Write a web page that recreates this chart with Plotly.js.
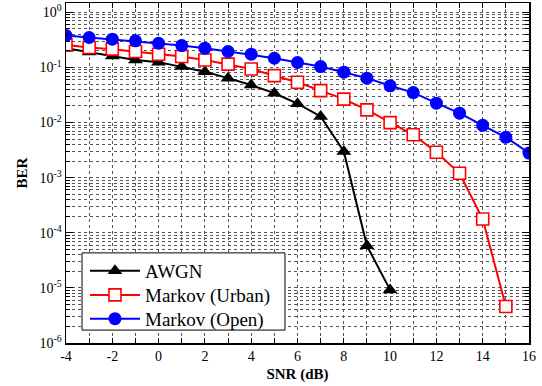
<!DOCTYPE html>
<html><head><meta charset="utf-8">
<script src="https://cdn.plot.ly/plotly-3.0.1.min.js"></script>
<style>html,body{margin:0;padding:0;background:#fff}#chart{width:542px;height:386px}</style>
</head><body><div id="chart"></div>
<script>
const snr = [-4,-3,-2,-1,0,1,2,3,4,5,6,7,8,9,10,11,12,13,14,15,16];
const awgnSnr = [-4,-3,-2,-1,0,1,2,3,4,5,6,7,8,9,10];
const awgn = [0.224,0.19,0.162,0.137,0.125,0.104,0.084,0.064,0.048,0.034,0.022,0.0129,0.003,5.8e-5,9.2e-6];
const urbanSnr = [-4,-3,-2,-1,0,1,2,3,4,5,6,7,8,9,10,11,12,13,14,15];
const urban = [0.257,0.23,0.215,0.195,0.174,0.158,0.137,0.115,0.094,0.071,0.054,0.038,0.0266,0.017,0.01,0.006,0.0029,0.0012,1.78e-4,4.6e-6];
const open = [0.38,0.35,0.326,0.304,0.275,0.25,0.224,0.195,0.174,0.147,0.123,0.104,0.082,0.064,0.0465,0.035,0.0225,0.0148,0.0089,0.0054,0.0028];
const xTickVals = [-4,-2,0,2,4,6,8,10,12,14,16];
const xTickText = ['-4','-2','0','2','4','6','8','10','12','14','16'];
const yTickVals = [1e-6,1e-5,1e-4,1e-3,1e-2,1e-1,1];
const yTickText = ['10<sup>-6</sup>','10<sup>-5</sup>','10<sup>-4</sup>','10<sup>-3</sup>','10<sup>-2</sup>','10<sup>-1</sup>','10<sup>0</sup>'];
const names = ['AWGN','Markov (Urban)','Markov (Open)'];

const font = 'Liberation Serif';
const traces = [
  {x: awgnSnr, y: awgn, name: names[0], mode: 'lines+markers', legend: 'legend',
   line: {color: '#000', width: 2},
   marker: {symbol: 'triangle-up', size: 13, color: '#000'}},
  {x: urbanSnr, y: urban, name: names[1], mode: 'lines+markers', legend: 'legend2',
   line: {color: '#ff0000', width: 2},
   marker: {symbol: 'square', size: 12, color: '#fff', line: {color: '#ff0000', width: 1.6}}},
  {x: snr, y: open, name: names[2], mode: 'lines+markers', legend: 'legend3',
   line: {color: '#0000ff', width: 2},
   marker: {symbol: 'circle', size: 13, color: '#0000ff'}}
];
const gridc = '#555';
function leg(y) {
  return {x: 0.041, y: y, xanchor: 'left', yanchor: 'middle',
    bgcolor: 'rgba(0,0,0,0)', borderwidth: 0, itemwidth: 50,
    font: {family: font, size: 19, color: '#000'}};
}
const layout = {
  width: 542, height: 386,
  margin: {l: 66, r: 13, t: 3, b: 43},
  paper_bgcolor: '#fff', plot_bgcolor: '#fff',
  font: {family: font, color: '#000', size: 14},
  showlegend: true,
  legend: leg(0.212), legend2: leg(0.141), legend3: leg(0.071),
  shapes: [{type: 'rect', xref: 'paper', yref: 'paper', x0: 0.0346, x1: 0.473, y0: 0.038, y1: 0.265,
    fillcolor: '#fff', line: {color: '#000', width: 1}, layer: 'above'}],
  xaxis: {range: [-4, 16], tickmode: 'array', tickvals: xTickVals, ticktext: xTickText,
    ticks: 'inside', ticklen: 5, tickwidth: 1, tickcolor: '#000',
    showline: true, linecolor: '#000', linewidth: 1.5, mirror: 'allticks',
    showgrid: true, gridcolor: gridc, griddash: 'dot', gridwidth: 1,
    zeroline: false,
    minor: {dtick: 1, tick0: -4, ticks: 'inside', ticklen: 5, tickcolor: '#000',
      showgrid: true, gridcolor: gridc, griddash: 'dot', gridwidth: 1},
    tickfont: {family: font, size: 14},
    title: {text: '<b>SNR (dB)</b>', font: {family: font, size: 15}, standoff: 5}},
  yaxis: {type: 'log', range: [-6, 0.17], tickmode: 'array', tickvals: yTickVals, ticktext: yTickText,
    ticks: 'inside', ticklen: 7, tickwidth: 1, tickcolor: '#000',
    showline: true, linecolor: '#000', linewidth: 1.5, mirror: 'allticks',
    showgrid: true, gridcolor: gridc, griddash: 'dot', gridwidth: 1,
    zeroline: false,
    minor: {dtick: 'D1', ticks: 'inside', ticklen: 4, tickcolor: '#000',
      showgrid: true, gridcolor: gridc, griddash: 'dot', gridwidth: 1},
    tickfont: {family: font, size: 14},
    title: {text: '<b>BER</b>', font: {family: font, size: 15}, standoff: 8}}
};
Plotly.newPlot('chart', traces, layout, {displayModeBar: false, staticPlot: true});
</script></body></html>
